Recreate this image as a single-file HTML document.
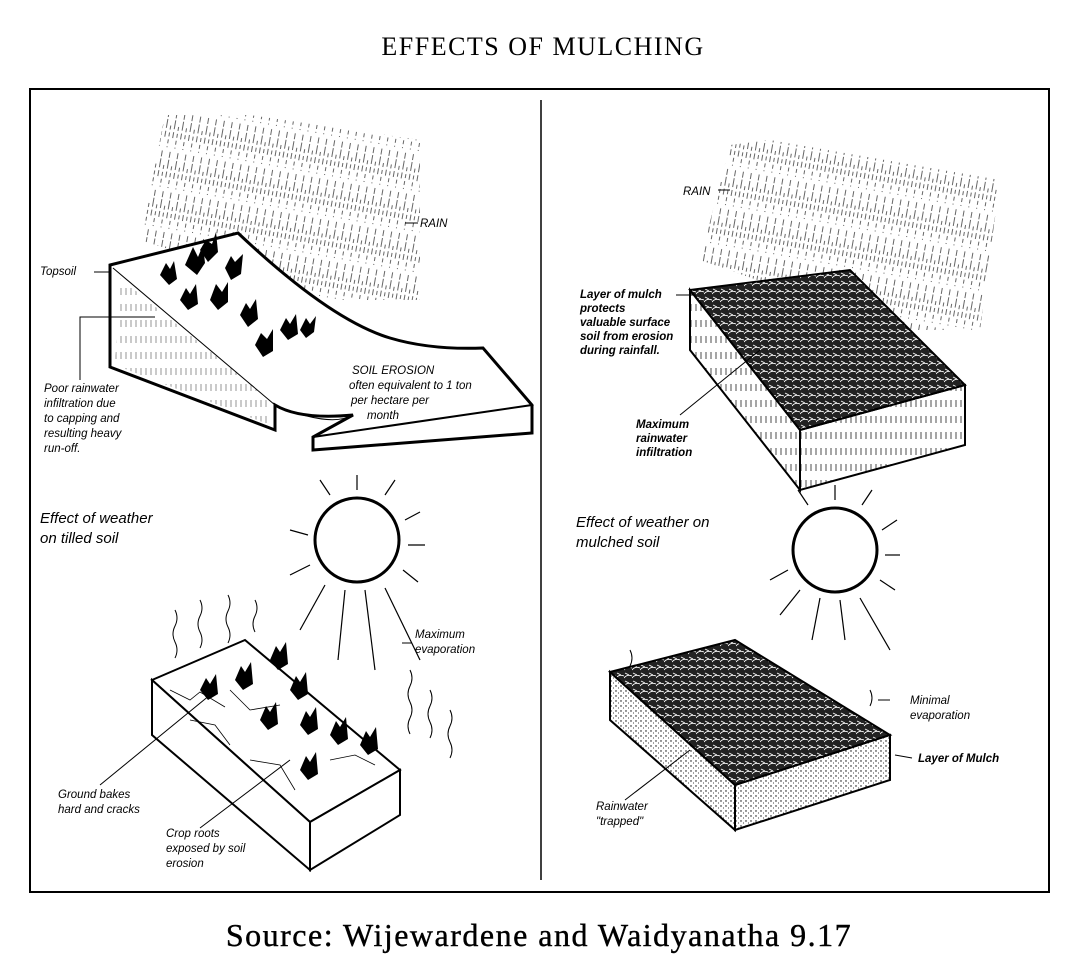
<!DOCTYPE html>
<html><head><style>
html,body{margin:0;padding:0;background:#fff;}
svg{display:block;}
.l{font-family:"Liberation Sans",sans-serif;font-style:italic;font-size:11.5px;fill:#000;}
.h{font-family:"Liberation Sans",sans-serif;font-style:italic;font-size:15px;fill:#000;}
</style></head><body>
<svg width="1088" height="972" viewBox="0 0 1088 972" xmlns="http://www.w3.org/2000/svg">
<defs>
<pattern id="rain" width="8" height="40" patternUnits="userSpaceOnUse" patternTransform="rotate(10)">
<line x1="2" y1="0" x2="2" y2="26" stroke="#000" stroke-width="0.6" stroke-dasharray="6 2 9 3"/>
<line x1="6" y1="14" x2="6" y2="36" stroke="#000" stroke-width="0.6" stroke-dasharray="4 3"/>
</pattern>
<pattern id="mulch" width="8" height="8" patternUnits="userSpaceOnUse">
<rect width="8" height="8" fill="#222"/>
<path d="M0 6 Q3 2 8 4 M1 1 L5 3" stroke="#fff" stroke-width="0.9" fill="none"/>
</pattern>
<pattern id="dots" width="5" height="5" patternUnits="userSpaceOnUse">
<circle cx="1" cy="1" r="0.7" fill="#000"/><circle cx="3.5" cy="3" r="0.5" fill="#000"/>
</pattern>
<pattern id="vh" width="5" height="16" patternUnits="userSpaceOnUse">
<line x1="1" y1="0" x2="1" y2="7" stroke="#000" stroke-width="0.7"/>
</pattern>
</defs>
<text x="543" y="55" text-anchor="middle" font-family="Liberation Serif,serif" font-size="26" letter-spacing="1.5">EFFECTS OF MULCHING</text>
<rect x="30" y="89" width="1019" height="803" fill="none" stroke="#000" stroke-width="2"/>
<line x1="541" y1="100" x2="541" y2="880" stroke="#000" stroke-width="1.5"/>

<polygon points="165,115 250,115 420,140 420,300 330,300 140,240" fill="url(#rain)"/>
<line x1="405" y1="223" x2="418" y2="223" stroke="#000"/>
<text x="420" y="227" class="l">RAIN</text>
<path d="M110,265 L238,233 Q330,320 390,338 Q430,350 483,348 L532,405 L532,433 L313,450 L313,437 L353,415 Q300,420 275,405 L275,430 L110,367 Z" fill="#fff" stroke="#000" stroke-width="3"/>
<path d="M113,268 L275,405" stroke="#000" stroke-width="1"/>
<path d="M120,278 L270,400 L270,425 L115,365 Z" fill="url(#vh)" opacity="0.6"/>
<path d="M275,405 Q330,428 353,415" fill="none" stroke="#000"/>
<path d="M483,348 L532,405 L313,437" fill="none" stroke="#000" stroke-width="2"/>
<g fill="#000">
<path d="M160,275 l6,-12 l4,6 l4,-8 l3,18 l-8,6 z"/><path d="M185,265 l8,-18 l5,10 l5,-12 l2,18 l-8,12 z"/>
<path d="M200,250 l6,-10 l6,4 l4,-12 l2,20 l-10,10z"/><path d="M225,268 l6,-12 l4,6 l8,-8 l-2,20 l-10,6z"/>
<path d="M180,300 l6,-12 l4,6 l6,-10 l2,20 l-10,6z"/><path d="M210,300 l6,-16 l6,8 l6,-10 l0,20 l-10,8z"/>
<path d="M240,315 l6,-12 l4,6 l6,-10 l2,20 l-10,8z"/><path d="M255,345 l6,-12 l6,6 l6,-10 l0,22 l-10,6z"/>
<path d="M280,330 l6,-12 l4,6 l6,-10 l2,20 l-10,6z"/><path d="M300,330 l6,-12 l4,6 l6,-8 l-2,16 l-8,6z"/>
</g>
<line x1="94" y1="272" x2="110" y2="272" stroke="#000"/>
<text x="40" y="275" class="l">Topsoil</text>
<path d="M80,380 L80,317 L155,317" fill="none" stroke="#000"/>
<text class="l"><tspan x="44" y="392">Poor rainwater</tspan><tspan x="44" y="407">infiltration due</tspan><tspan x="44" y="422">to capping and</tspan><tspan x="44" y="437">resulting heavy</tspan><tspan x="44" y="452">run-off.</tspan></text>
<text class="l"><tspan x="352" y="374">SOIL EROSION</tspan><tspan x="349" y="389">often equivalent  to 1 ton</tspan><tspan x="351" y="404">per  hectare per</tspan><tspan x="367" y="419">month</tspan></text>

<polygon points="730,145 770,140 1000,180 980,330 900,330 700,260" fill="url(#rain)"/>
<line x1="718" y1="190" x2="730" y2="190" stroke="#000"/>
<text x="683" y="195" class="l">RAIN</text>
<polygon points="690,290 850,270 965,385 800,430" fill="url(#mulch)" stroke="#000" stroke-width="2"/>
<polygon points="690,290 800,430 800,490 690,350" fill="url(#vh)" stroke="#000" stroke-width="2"/>
<polygon points="800,430 965,385 965,445 800,490" fill="url(#vh)" stroke="#000" stroke-width="2"/>
<line x1="676" y1="295" x2="695" y2="295" stroke="#000"/>
<text class="l" font-weight="bold"><tspan x="580" y="298">Layer of mulch</tspan><tspan x="580" y="312">protects</tspan><tspan x="580" y="326">valuable surface</tspan><tspan x="580" y="340">soil from erosion</tspan><tspan x="580" y="354">during rainfall.</tspan></text>
<line x1="680" y1="415" x2="760" y2="350" stroke="#000"/>
<text class="l" font-weight="bold"><tspan x="636" y="428">Maximum</tspan><tspan x="636" y="442">rainwater</tspan><tspan x="636" y="456">infiltration</tspan></text>

<text class="h"><tspan x="40" y="523">Effect of weather</tspan><tspan x="40" y="543">on tilled soil</tspan></text>
<circle cx="357" cy="540" r="42" fill="#fff" stroke="#000" stroke-width="3"/>
<g stroke="#000" stroke-width="1.2">
<line x1="357" y1="490" x2="357" y2="475"/><line x1="330" y1="495" x2="320" y2="480"/><line x1="385" y1="495" x2="395" y2="480"/>
<line x1="405" y1="520" x2="420" y2="512"/><line x1="408" y1="545" x2="425" y2="545"/><line x1="403" y1="570" x2="418" y2="582"/>
<line x1="385" y1="588" x2="420" y2="660"/><line x1="365" y1="590" x2="375" y2="670"/><line x1="345" y1="590" x2="338" y2="660"/>
<line x1="325" y1="585" x2="300" y2="630"/><line x1="310" y1="565" x2="290" y2="575"/><line x1="308" y1="535" x2="290" y2="530"/>
</g>
<g fill="none" stroke="#000" stroke-width="1">
<path d="M175,610 q4,8 0,16 q-4,8 0,16 q4,8 0,16"/><path d="M200,600 q4,8 0,16 q-4,8 0,16 q4,8 0,16"/>
<path d="M228,595 q4,8 0,16 q-4,8 0,16 q4,8 0,16"/><path d="M255,600 q4,8 0,16 q-4,8 0,16"/>
<path d="M410,670 q4,8 0,16 q-4,8 0,16 q4,8 0,16 q-4,8 0,16"/><path d="M430,690 q4,8 0,16 q-4,8 0,16 q4,8 0,16"/>
<path d="M450,710 q4,8 0,16 q-4,8 0,16 q4,8 0,16"/>
</g>
<polygon points="152,680 245,640 400,770 310,822" fill="#fff" stroke="#000" stroke-width="2"/>
<polygon points="152,680 310,822 310,870 152,735" fill="#fff" stroke="#000" stroke-width="2"/>
<polygon points="310,822 400,770 400,815 310,870" fill="#fff" stroke="#000" stroke-width="2"/>
<g fill="none" stroke="#000" stroke-width="0.8">
<path d="M170,690 l20,10 l10,-8 l25,15 M190,720 l25,5 l15,20 M250,760 l30,5 l15,25 M330,760 l25,-5 l20,10 M230,690 l20,20 l30,-5"/>
</g>
<g fill="#000">
<path d="M200,690 l6,-12 l4,6 l6,-10 l2,20 l-10,6z"/><path d="M235,680 l6,-14 l4,6 l6,-10 l2,22 l-10,6z"/>
<path d="M270,660 l6,-14 l4,6 l6,-10 l2,22 l-10,6z"/><path d="M290,690 l6,-14 l4,6 l6,-10 l2,22 l-10,6z"/>
<path d="M260,720 l6,-14 l4,6 l6,-10 l2,22 l-10,6z"/><path d="M300,725 l6,-14 l4,6 l6,-10 l2,22 l-10,6z"/>
<path d="M330,735 l6,-14 l4,6 l6,-10 l2,22 l-10,6z"/><path d="M360,745 l6,-14 l4,6 l6,-10 l2,22 l-10,6z"/>
<path d="M300,770 l6,-14 l4,6 l6,-10 l2,22 l-10,6z"/>
</g>
<line x1="402" y1="643" x2="412" y2="643" stroke="#000"/>
<text class="l"><tspan x="415" y="638">Maximum</tspan><tspan x="415" y="653">evaporation</tspan></text>
<line x1="100" y1="785" x2="210" y2="695" stroke="#000"/>
<text class="l"><tspan x="58" y="798">Ground bakes</tspan><tspan x="58" y="813">hard and cracks</tspan></text>
<line x1="200" y1="828" x2="290" y2="760" stroke="#000"/>
<text class="l"><tspan x="166" y="837">Crop roots</tspan><tspan x="166" y="852">exposed by soil</tspan><tspan x="166" y="867">erosion</tspan></text>

<text class="h"><tspan x="576" y="527">Effect of weather on</tspan><tspan x="576" y="547">mulched soil</tspan></text>
<circle cx="835" cy="550" r="42" fill="#fff" stroke="#000" stroke-width="3"/>
<g stroke="#000" stroke-width="1.2">
<line x1="835" y1="500" x2="835" y2="485"/><line x1="808" y1="505" x2="798" y2="490"/><line x1="862" y1="505" x2="872" y2="490"/>
<line x1="882" y1="530" x2="897" y2="520"/><line x1="885" y1="555" x2="900" y2="555"/><line x1="880" y1="580" x2="895" y2="590"/>
<line x1="860" y1="598" x2="890" y2="650"/><line x1="840" y1="600" x2="845" y2="640"/><line x1="820" y1="598" x2="812" y2="640"/>
<line x1="800" y1="590" x2="780" y2="615"/><line x1="788" y1="570" x2="770" y2="580"/>
</g>
<g fill="none" stroke="#000"><path d="M630,650 q4,8 0,16 q-4,8 0,16"/><path d="M870,690 q4,8 0,16"/></g>
<polygon points="610,672 735,640 890,735 735,785" fill="url(#mulch)" stroke="#000" stroke-width="2"/>
<polygon points="610,672 735,785 735,830 610,720" fill="url(#dots)" stroke="#000" stroke-width="2"/>
<polygon points="735,785 890,735 890,780 735,830" fill="url(#dots)" stroke="#000" stroke-width="2"/>
<line x1="878" y1="700" x2="890" y2="700" stroke="#000"/>
<text class="l"><tspan x="910" y="704">Minimal</tspan><tspan x="910" y="719">evaporation</tspan></text>
<line x1="895" y1="755" x2="912" y2="758" stroke="#000"/>
<text class="l" font-weight="bold" x="918" y="762">Layer of Mulch</text>
<line x1="625" y1="800" x2="690" y2="750" stroke="#000"/>
<text class="l"><tspan x="596" y="810">Rainwater</tspan><tspan x="596" y="825">"trapped"</tspan></text>

<text x="539" y="946" text-anchor="middle" font-family="Liberation Serif,serif" font-size="32" letter-spacing="1.5" stroke="#000" stroke-width="0.4">Source:  Wijewardene and Waidyanatha 9.17</text>
</svg>
</body></html>
